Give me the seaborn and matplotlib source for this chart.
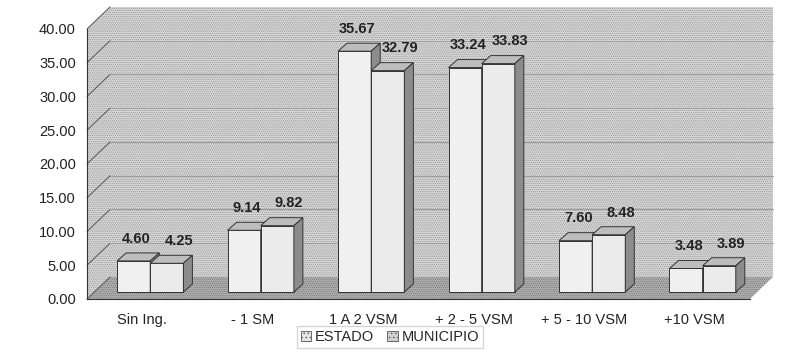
import numpy as np
import pandas as pd
import matplotlib
matplotlib.use("Agg")
import matplotlib.pyplot as plt
from matplotlib.patches import Polygon, Patch
import seaborn as sns

# datos
categorias = ["Sin Ing.", "- 1 SM", "1 A 2 VSM", "+ 2 - 5 VSM", "+ 5 - 10 VSM", "+10 VSM"]
estado = [4.60, 9.14, 35.67, 33.24, 7.60, 3.48]
municipio = [4.25, 9.82, 32.79, 33.83, 8.48, 3.89]
series = ["ESTADO", "MUNICIPIO"]
yticks = np.arange(0, 45, 5)

df = pd.DataFrame({
    "cat": categorias * 2,
    "val": estado + municipio,
    "serie": [series[0]] * len(estado) + [series[1]] * len(municipio),
})

sns.set_style("white")
plt.rcParams["font.family"] = ["Liberation Sans", "DejaVu Sans"]
plt.rcParams["hatch.linewidth"] = 0.5

fig = plt.figure(figsize=(7.91, 3.53), dpi=100)
ax = fig.add_axes([0.110, 0.153, 0.838, 0.765])
ax.set_facecolor("none")

sns.barplot(data=df, x="cat", y="val", hue="serie", hue_order=series,
            palette=["#f0f0f0", "#ebebeb"], width=0.6, ax=ax, legend=False,
            edgecolor="#333333", linewidth=0.7, zorder=3)
bars = list(ax.patches)

x0, x1 = -0.5, len(categorias) - 0.5
ax.set_xlim(x0, x1)
ax.set_ylim(0, 40)

# escala pixel -> datos para el efecto 3D
bb = ax.get_window_extent()
sx = bb.width / (x1 - x0)
sy = bb.height / 40.0
def px(dx, dy):
    return dx / sx, dy / sy

wdx, wdy = px(23, 22)   # profundidad de las paredes
sdx, sdy = px(8, 7)     # desplazamiento de barras hacia atras
bdx, bdy = px(9, 8)     # profundidad de barras

# pared del fondo, pared izquierda y piso
wall_kw = dict(facecolor="#d6d6d6", edgecolor="#939393", hatch="........",
               linewidth=0, clip_on=False, zorder=0)
ax.add_patch(Polygon([(x0 + wdx, wdy), (x1 + wdx, wdy), (x1 + wdx, 40 + wdy),
                      (x0 + wdx, 40 + wdy)], **wall_kw))
ax.add_patch(Polygon([(x0, 0), (x0, 40), (x0 + wdx, 40 + wdy), (x0 + wdx, wdy)], **wall_kw))
ax.add_patch(Polygon([(x0, 0), (x1, 0), (x1 + wdx, wdy), (x0 + wdx, wdy)],
                     facecolor="#b0b0b0", edgecolor="#707070", hatch="........",
                     linewidth=0, clip_on=False, zorder=0.5))

for y in yticks:
    ax.plot([x0, x0 + wdx], [y, y + wdy], color="#555555", lw=0.7, clip_on=False, zorder=1)
    if 0 < y < 40:
        ax.plot([x0 + wdx, x1 + wdx], [y + wdy, y + wdy], color="#9c9c9c", lw=0.7,
                clip_on=False, zorder=1)

# caras superiores y laterales
n = len(categorias)
for i, b in enumerate(bars):
    z = 3 + i // n
    x, w, h = b.get_x(), b.get_width(), b.get_height()
    b.set_x(x + sdx)
    b.set_y(sdy)
    b.set_zorder(z)
    xl = x + sdx
    ht = h + sdy
    ax.add_patch(Polygon([(xl, ht), (xl + w, ht), (xl + w + bdx, ht + bdy), (xl + bdx, ht + bdy)],
                         facecolor="#bdbdbd", edgecolor="#333333", lw=0.7, zorder=z,
                         clip_on=False))
    ax.add_patch(Polygon([(xl + w, sdy), (xl + w, ht), (xl + w + bdx, ht + bdy),
                          (xl + w + bdx, sdy + bdy)],
                         facecolor="#8c8c8c", edgecolor="#333333", lw=0.7, zorder=z,
                         clip_on=False))
    dx = 2 if i < n else 8.5
    ax.annotate(f"{h:.2f}", xy=(xl + w / 2, ht), xytext=(dx, 16),
                textcoords="offset points", ha="center", va="center",
                fontsize=10.5, fontweight="bold", color="#222222", zorder=6)

# ejes
for s in ["top", "right"]:
    ax.spines[s].set_visible(False)
for s in ["left", "bottom"]:
    ax.spines[s].set_color("#333333")
    ax.spines[s].set_linewidth(0.8)
    ax.spines[s].set_zorder(2)

ax.set_yticks(yticks)
ax.set_yticklabels([f"{v:.2f}" for v in yticks])
ax.tick_params(axis="y", length=3, width=0.7, pad=5, labelsize=10.5, colors="#333333",
               labelcolor="#222222")
ax.set_xticks(range(n))
ax.set_xticklabels(categorias)
ax.set_xticks(np.arange(0.5, n - 0.5, 1), minor=True)
ax.tick_params(axis="x", which="major", length=0, pad=10, labelsize=10.5, labelcolor="#222222")
ax.tick_params(axis="x", which="minor", length=4, width=0.7, color="#555555")
ax.set_xlabel("")
ax.set_ylabel("")

handles = [Patch(facecolor="#e6e6e6", edgecolor="#555555", hatch="....", lw=0.6),
           Patch(facecolor="#d0d0d0", edgecolor="#555555", hatch="....", lw=0.6)]
fig.legend(handles, series, loc="center", bbox_to_anchor=(0.493, 0.045), ncol=2,
           frameon=True, fancybox=False, edgecolor="#cccccc", fontsize=10.5,
           handlelength=0.7, handleheight=0.7, handletextpad=0.3, columnspacing=0.9,
           borderpad=0.25)

fig.savefig("out.png", dpi=100)
